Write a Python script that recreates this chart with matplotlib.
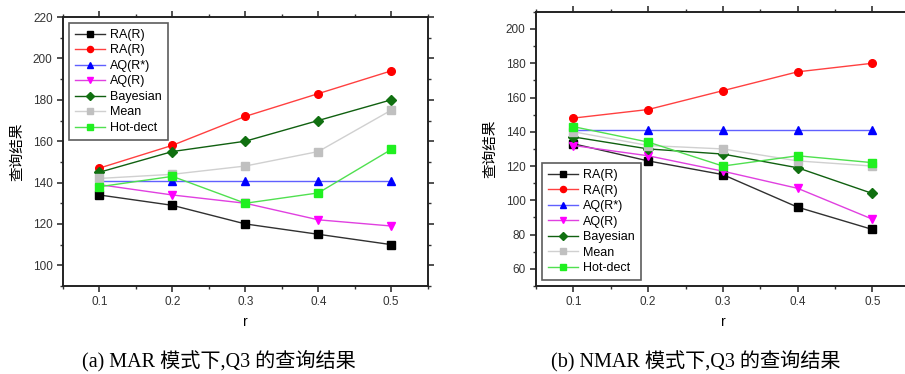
import numpy as np
import matplotlib.pyplot as plt
from matplotlib.ticker import MultipleLocator

plt.rcParams['font.family'] = ['Liberation Sans', 'Noto Sans CJK SC']

r = [0.1, 0.2, 0.3, 0.4, 0.5]
labels = ['RA(R)', 'RA(R)', 'AQ(R*)', 'AQ(R)', 'Bayesian', 'Mean', 'Hot-dect']

# (a) MAR
mar_ra_black = [134, 129, 120, 115, 110]
mar_ra_red = [147, 158, 172, 183, 194]
mar_aq_star = [141, 141, 141, 141, 141]
mar_aq = [139, 134, 130, 122, 119]
mar_bayes = [145, 155, 160, 170, 180]
mar_mean = [142, 144, 148, 155, 175]
mar_hot = [138, 143, 130, 135, 156]

# (b) NMAR
nmar_ra_black = [133, 123, 115, 96, 83]
nmar_ra_red = [148, 153, 164, 175, 180]
nmar_aq_star = [141, 141, 141, 141, 141]
nmar_aq = [132, 126, 117, 107, 89]
nmar_bayes = [137, 130, 127, 119, 104]
nmar_mean = [140, 132, 130, 123, 120]
nmar_hot = [143, 134, 120, 126, 122]

styles = [
    ('#303030', 's', 'black'),
    ('#ff4040', 'o', 'red'),
    ('#6060ff', '^', 'blue'),
    ('#e040e0', 'v', 'magenta'),
    ('#106010', 'D', '#107010'),
    ('#d0d0d0', 's', '#c0c0c0'),
    ('#50e050', 's', '#20f020'),
]

fig = plt.figure(figsize=(9.05, 3.74), dpi=100)
ax1 = fig.add_axes([0.0696, 0.2353, 0.403, 0.719])
ax2 = fig.add_axes([0.5923, 0.2353, 0.413, 0.733])

def draw(ax, series, ylim, yticks, legend_loc):
    for ys, (lc, mk, mc), lab in zip(series, styles, labels):
        ax.plot(r, ys, color=lc, lw=1.0, marker=mk, ms=5.5 if mk != 'D' else 5,
                mfc=mc, mec=mc, label=lab)
    ax.set_xlim(0.05, 0.55)
    ax.set_ylim(*ylim)
    ax.set_xticks(r)
    ax.set_xticklabels(['0.1', '0.2', '0.3', '0.4', '0.5'])
    ax.set_yticks(yticks)
    ax.xaxis.set_minor_locator(MultipleLocator(0.05))
    ax.yaxis.set_minor_locator(MultipleLocator(10))
    ax.tick_params(which='both', direction='out', labelsize=8.5, colors='#333333',
                   top=True, right=True)
    ax.tick_params(which='major', length=4, width=1.2)
    ax.tick_params(which='minor', length=2, width=1)
    for s in ax.spines.values():
        s.set_linewidth(1.4)
        s.set_color('#222222')
    ax.set_xlabel('r', fontsize=10, labelpad=5)
    ax.set_ylabel('查询结果', fontsize=10.5, family=['Noto Sans CJK SC'], labelpad=6)
    leg = ax.legend(loc=legend_loc, fontsize=9, frameon=True, fancybox=False,
                    handlelength=2.4, labelspacing=0.28, borderpad=0.5,
                    handletextpad=0.4, borderaxespad=0.45, markerscale=0.8)
    leg.get_frame().set_edgecolor('#333333')
    leg.get_frame().set_linewidth(1.2)
    return leg

leg1 = draw(ax1, [mar_ra_black, mar_ra_red, mar_aq_star, mar_aq, mar_bayes, mar_mean, mar_hot],
            (90, 220), [100, 120, 140, 160, 180, 200, 220], 'upper left')
leg2 = draw(ax2, [nmar_ra_black, nmar_ra_red, nmar_aq_star, nmar_aq, nmar_bayes, nmar_mean, nmar_hot],
            (50, 210), [60, 80, 100, 120, 140, 160, 180, 200], 'lower left')

cap_font = ['Liberation Serif', 'Noto Sans CJK SC']
fig.text(0.242, 0.035, '(a) MAR 模式下,Q3 的查询结果', ha='center', va='center',
         fontsize=14.5, family=cap_font)
fig.text(0.769, 0.035, '(b) NMAR 模式下,Q3 的查询结果', ha='center', va='center',
         fontsize=14.5, family=cap_font)

fig.savefig('out.png', dpi=100)
